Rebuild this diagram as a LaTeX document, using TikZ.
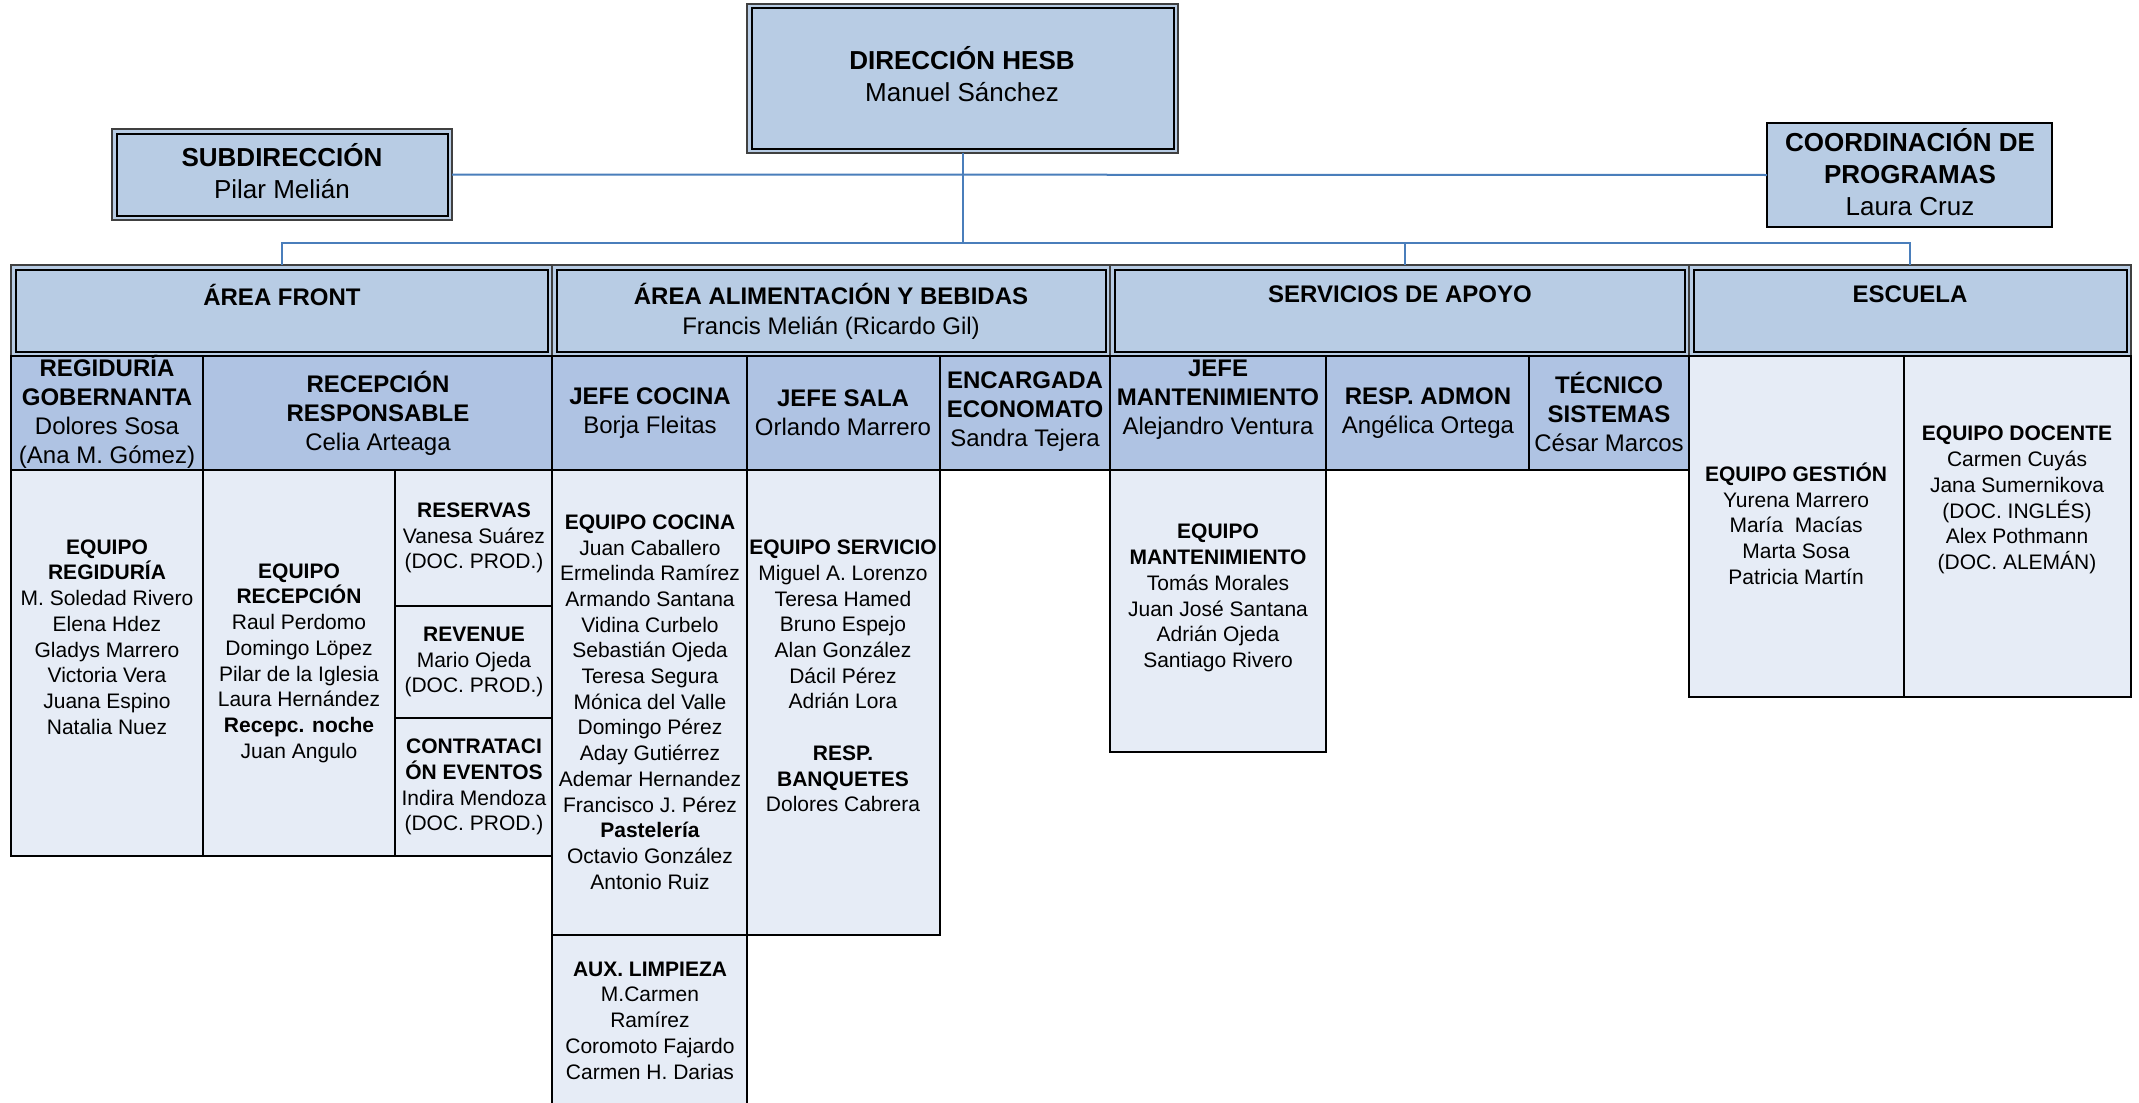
\documentclass[tikz,border=0pt]{standalone}
\usepackage{fontspec}
\setmainfont{Liberation Sans}
\usetikzlibrary{fit}
\definecolor{hdrc}{HTML}{B8CCE4}
\definecolor{subc}{HTML}{AFC3E3}
\definecolor{teamc}{HTML}{E6ECF6}
\definecolor{connc}{HTML}{4A7EBB}
\newcommand{\cellbox}[6]{\node[#2, fit={(#3,#4) (#5,#6)}] (#1) {};}
\begin{document}
\begin{tikzpicture}[x=0.5pt, y=-0.5pt,
  box/.style={inner sep=0pt, outer sep=0pt, line width=1pt, draw=black},
  hdr/.style={box, fill=hdrc, draw=black!75, line width=1.2pt},
  single/.style={box, fill=hdrc, line width=1.3pt},
  sub2/.style={box, fill=subc},
  team/.style={box, fill=teamc},
  innerframe/.style={draw=black, line width=1pt},
  conn/.style={draw=connc, line width=1pt},
  txt/.style={inner sep=0pt, outer sep=0pt, align=center, text=black},
  f3/.style={txt, font=\fontsize{10.5}{12.85}\selectfont},
  f2/.style={txt, font=\fontsize{12}{14.5}\selectfont},
  fh/.style={txt, font=\fontsize{12}{15}\selectfont},
  f1/.style={txt, font=\fontsize{13}{16}\selectfont}]
\useasboundingbox[fill=white] (0,0) rectangle (2139,1102);

% top boxes
\cellbox{dir}{hdr}{747}{4}{1178}{153}
\cellbox{sub}{hdr}{112}{129}{452}{220}
\cellbox{coord}{single}{1767}{123}{2052}{227}

% area headers
\cellbox{front}{hdr}{11}{265}{552}{356}
\cellbox{ab}{hdr}{552}{265}{1110}{356}
\cellbox{serv}{hdr}{1110}{265}{1689}{356}
\cellbox{esc}{hdr}{1689}{265}{2131}{356}

\foreach \n in {dir,sub,front,ab,serv,esc}
  \draw[innerframe] ([shift={(4.5,4.5)}]\n.north west) rectangle ([shift={(-4.5,-4.5)}]\n.south east);

% row 2
\cellbox{reg}{sub2}{11}{356}{203}{470}
\cellbox{rec}{sub2}{203}{356}{552}{470}
\cellbox{jcoc}{sub2}{552}{356}{747}{470}
\cellbox{jsala}{sub2}{747}{356}{940}{470}
\cellbox{econ}{sub2}{940}{356}{1110}{470}
\cellbox{jmant}{sub2}{1110}{356}{1326}{470}
\cellbox{admon}{sub2}{1326}{356}{1529}{470}
\cellbox{tec}{sub2}{1529}{356}{1689}{470}
\cellbox{gest}{team}{1689}{356}{1904}{697}
\cellbox{doc}{team}{1904}{356}{2131}{697}

% row 3
\cellbox{eqreg}{team}{11}{470}{203}{856}
\cellbox{eqrec}{team}{203}{470}{395}{856}
\cellbox{reserv}{team}{395}{470}{552}{606}
\cellbox{revenue}{team}{395}{606}{552}{718}
\cellbox{contrat}{team}{395}{718}{552}{856}
\cellbox{eqcoc}{team}{552}{470}{747}{935}
\cellbox{eqserv}{team}{747}{470}{940}{935}
\cellbox{aux}{team}{552}{935}{747}{1115}
\cellbox{eqmant}{team}{1110}{470}{1326}{752}

% connectors
\coordinate (bus) at (282,243);
\draw[conn] (sub.east) -- (coord.west);
\draw[conn] (dir.south) -- (dir.south |- bus);
\draw[conn] (front.north) -- (front.north |- bus) -| (esc.north);
\draw[conn] ([xshift=2.75pt]serv.north) -- ([xshift=2.75pt]serv.north |- bus);

% texts: top
\node[f1] (t-dir) at (962,74.5) {\textbf{DIRECCIÓN HESB}\\Manuel Sánchez};
\node[f1] (t-sub) at (282,171.5) {\textbf{SUBDIRECCIÓN}\\Pilar Melián};
\node[f1] (t-coord) at (1910,172) {\textbf{COORDINACIÓN DE}\\\textbf{PROGRAMAS}\\Laura Cruz};

% headers
\node[fh] (t-front) at (282,294.5) {\textbf{ÁREA FRONT}};
\node[fh] (t-ab) at (831,311) {\textbf{ÁREA ALIMENTACIÓN Y BEBIDAS}\\Francis Melián (Ricardo Gil)};
\node[fh] (t-serv) at (1400,294.5) {\textbf{SERVICIOS DE APOYO}};
\node[fh] (t-esc) at (1910,294.5) {\textbf{ESCUELA}};

% row 2 texts
\node[f2] (t-reg) at (107,412) {\textbf{REGIDURÍA}\\\textbf{GOBERNANTA}\\Dolores Sosa\\(Ana M. Gómez)};
\node[f2] (t-rec) at (378,413) {\textbf{RECEPCIÓN}\\\textbf{RESPONSABLE}\\Celia Arteaga};
\node[f2] (t-jcoc) at (650,413.5) {\textbf{JEFE COCINA}\\Borja Fleitas};
\node[f2] (t-jsala) at (843,412.5) {\textbf{JEFE SALA}\\Orlando Marrero};
\node[f2] (t-econ) at (1025,412) {\textbf{ENCARGADA}\\\textbf{ECONOMATO}\\Sandra Tejera};
\node[f2] (t-jmant) at (1218,400) {\textbf{JEFE}\\\textbf{MANTENIMIENTO}\\Alejandro Ventura};
\node[f2] (t-admon) at (1428,413.5) {\textbf{RESP. ADMON}\\Angélica Ortega};
\node[f2] (t-tec) at (1609,412) {\textbf{TÉCNICO}\\\textbf{SISTEMAS}\\César Marcos};

% row 3 texts
\node[f3] (t-eqreg) at (107,637) {\textbf{EQUIPO}\\\textbf{REGIDURÍA}\\M. Soledad Rivero\\Elena Hdez\\Gladys Marrero\\Victoria Vera\\Juana Espino\\Natalia Nuez};
\node[f3] (t-eqrec) at (299,663) {\textbf{EQUIPO}\\\textbf{RECEPCIÓN}\\Raul Perdomo\\Domingo Löpez\\Pilar de la Iglesia\\Laura Hernández\\\textbf{Recepc. noche}\\Juan Angulo};
\node[f3] (t-reserv) at (474,538) {\textbf{RESERVAS}\\Vanesa Suárez\\(DOC. PROD.)};
\node[f3] (t-revenue) at (474,662) {\textbf{REVENUE}\\Mario Ojeda\\(DOC. PROD.)};
\node[f3] (t-contrat) at (474,787) {\textbf{CONTRATACI}\\\textbf{ÓN EVENTOS}\\Indira Mendoza\\(DOC. PROD.)};
\node[f3] (t-eqcoc) at (650,702) {\textbf{EQUIPO COCINA}\\Juan Caballero\\Ermelinda Ramírez\\Armando Santana\\Vidina Curbelo\\Sebastián Ojeda\\Teresa Segura\\Mónica del Valle\\Domingo Pérez\\Aday Gutiérrez\\Ademar Hernandez\\Francisco J. Pérez\\\textbf{Pastelería}\\Octavio González\\Antonio Ruiz};
\node[f3] (t-eqserv) at (843,676) {\textbf{EQUIPO SERVICIO}\\Miguel A. Lorenzo\\Teresa Hamed\\Bruno Espejo\\Alan González\\Dácil Pérez\\Adrián Lora\\[12.85pt]\textbf{RESP.}\\\textbf{BANQUETES}\\Dolores Cabrera};
\node[f3] (t-aux) at (650,1020.5) {\textbf{AUX. LIMPIEZA}\\M.Carmen\\Ramírez\\Coromoto Fajardo\\Carmen H. Darias};
\node[f3] (t-eqmant) at (1218,598) {\textbf{EQUIPO}\\\textbf{MANTENIMIENTO}\\Tomás Morales\\Juan José Santana\\Adrián Ojeda\\Santiago Rivero};
\node[f3] (t-gest) at (1796,523.5) {\textbf{EQUIPO GESTIÓN}\\Yurena Marrero\\María~~Macías\\Marta Sosa\\Patricia Martín};
\node[f3] (t-doc) at (2017,500) {\textbf{EQUIPO DOCENTE}\\Carmen Cuyás\\Jana Sumernikova\\(DOC. INGLÉS)\\Alex Pothmann\\(DOC. ALEMÁN)};
\end{tikzpicture}
\end{document}
